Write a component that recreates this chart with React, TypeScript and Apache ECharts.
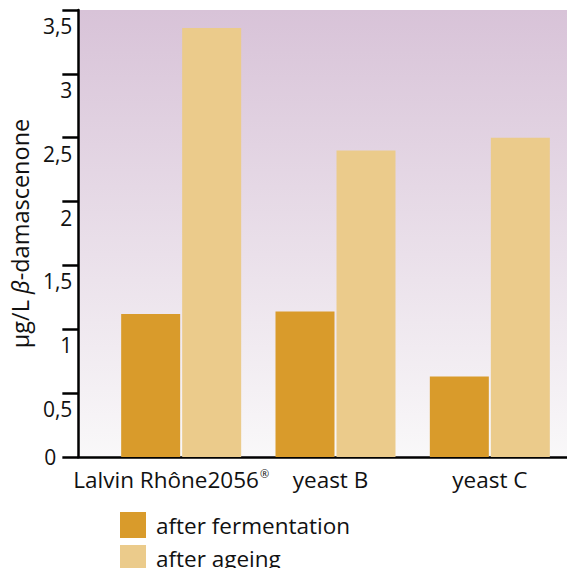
import React, { useEffect, useRef } from "react";
import * as echarts from "echarts";

const categories = ["Lalvin Rhône2056", "yeast B", "yeast C"];
const afterFermentation = [1.12, 1.14, 0.63];
const afterAgeing = [3.36, 2.4, 2.5];
const yMin = 0;
const yMax = 3.5;
const yInterval = 0.5;
const seriesNames = ["after fermentation", "after ageing"];

const FONT = "'Open Sans', 'Noto Sans', sans-serif";

export default function App() {
  const ref = useRef<HTMLDivElement>(null);
  useEffect(() => {
    document.body.style.margin = "0";
    const chart = echarts.init(ref.current!, null, { renderer: "svg" });
    const XF = 22.5;
    const labelRich: Record<string, any> = {
      l: { fontSize: XF, fontFamily: FONT, color: "#111" },
      sup: { fontSize: 11, fontFamily: FONT, color: "#111", verticalAlign: "top", padding: [0, 20, 10, 1] },
      b: { fontSize: XF, fontFamily: FONT, color: "#111", padding: [0, 10, 0, 0] },
      c: { fontSize: XF, fontFamily: FONT, color: "#111", padding: [0, 0, 0, 0] },
    };
    chart.setOption({
      animation: false,
      backgroundColor: "#ffffff",
      textStyle: { fontFamily: FONT },
      grid: [
        {
          left: 72,
          right: 0,
          top: 10,
          bottom: 111,
          show: true,
          borderWidth: 0,
          backgroundColor: new echarts.graphic.LinearGradient(0, 0, 0, 1, [
            { offset: 0, color: "#d8c3d8" },
            { offset: 1, color: "#f9f8f9" },
          ]),
        },
        { left: 104, right: -3.5, top: 10, bottom: 111 },
      ],
      legend: {
        orient: "vertical",
        left: 120,
        top: 512,
        height: 90,
        padding: 0,
        itemWidth: 26,
        itemHeight: 26,
        itemGap: 7,
        icon: "rect",
        data: seriesNames,
        textStyle: { fontSize: XF, fontFamily: FONT, color: "#111", padding: [0, 0, 0, 5] },
      },
      xAxis: [
        {
          type: "value",
          gridIndex: 0,
          min: 0,
          max: 1,
          axisLine: { show: true, onZero: false, lineStyle: { color: "#000", width: 2.5 } },
          axisTick: { show: false },
          axisLabel: { show: false },
          splitLine: { show: false },
        },
        {
          type: "category",
          gridIndex: 1,
          data: categories,
          axisLine: { show: false },
          axisTick: { show: false },
          axisLabel: {
            interval: 0,
            margin: 11,
            formatter: (v: string, i: number) => {
              if (i === 0) return "{l|" + v + "}{sup|®}";
              if (i === 1) return "{b|" + v + "}";
              return "{c|" + v + "}";
            },
            rich: labelRich,
          },
        },
      ],
      yAxis: [
        {
          type: "value",
          gridIndex: 0,
          min: yMin,
          max: yMax,
          interval: yInterval,
          name: "{a|µg/L }{b|β}{a|-damascenone}",
          nameLocation: "middle",
          nameGap: 36,
          nameRotate: 90,
          nameTextStyle: {
            rich: {
              a: { fontSize: 23.5, fontFamily: FONT, color: "#111" },
              b: { fontSize: 23.5, fontFamily: FONT, color: "#111", fontStyle: "italic" },
            },
          },
          axisLine: { show: true, lineStyle: { color: "#000", width: 2.5 } },
          axisTick: { show: true, inside: false, length: 16, lineStyle: { color: "#000", width: 2.5 } },
          splitLine: { show: false },
          axisLabel: {
            margin: 6,
            formatter: (v: number) =>
              v === 0 ? "{z|0}" : "{n|" + String(v).replace(".", ",") + "}",
            rich: {
              z: { fontSize: 21, fontFamily: FONT, color: "#111", padding: [0, 16, 0, 0] },
              n: { fontSize: 21, fontFamily: FONT, color: "#111", padding: [32, 0, 0, 0] },
            },
          },
        },
        {
          type: "value",
          gridIndex: 1,
          min: yMin,
          max: yMax,
          show: false,
        },
      ],
      series: [
        {
          name: seriesNames[0],
          type: "bar",
          xAxisIndex: 1,
          yAxisIndex: 1,
          data: afterFermentation,
          barWidth: 59,
          barGap: "3.4%",
          itemStyle: { color: "#d99b2b" },
        },
        {
          name: seriesNames[1],
          type: "bar",
          xAxisIndex: 1,
          yAxisIndex: 1,
          data: afterAgeing,
          barWidth: 59,
          barGap: "3.4%",
          itemStyle: { color: "#ebcb8b" },
        },
      ],
    });
    return () => chart.dispose();
  }, []);
  return <div ref={ref} style={{ width: 567, height: 568 }} />;
}
